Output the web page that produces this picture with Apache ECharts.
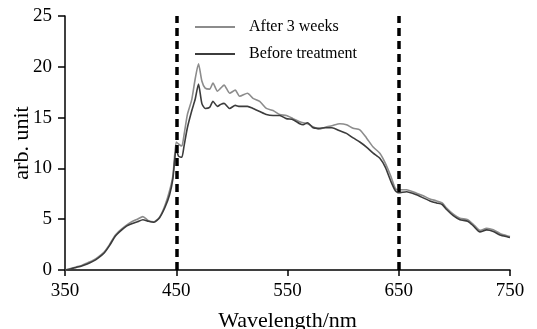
<!DOCTYPE html>
<html>
<head>
<meta charset="utf-8">
<script src="https://cdn.jsdelivr.net/npm/echarts@6/dist/echarts.min.js"></script>
<style>
html,body{margin:0;padding:0;background:#fff;}
#chart{width:537px;height:329px;}
</style>
</head>
<body>
<div id="chart"></div>
<script>
const wavelengths = [350,355,360,365,370,375,380,385,390,395,400,405,410,415,420,425,430,435,440,444,447,450,452,455,457,460,464,467,470,473,476,480,483,487,490,493,498,503,507,514,519,525,531,537,543,549,555,561,564,568,573,578,584,590,597,603,609,615,621,627,633,638,643,647,650,657,666,672,678,684,689,693,699,705,712,717,723,729,735,741,748,750];
const after3Weeks = [0,0.15,0.3,0.45,0.7,0.95,1.3,1.75,2.5,3.4,3.95,4.4,4.75,5.0,5.25,4.85,4.75,5.2,6.4,7.8,9.3,12.6,12.4,12.2,13.3,15.3,16.8,18.8,20.3,18.6,17.9,17.8,18.4,17.6,17.9,18.2,17.4,17.7,17.1,17.4,16.9,16.6,15.9,15.7,15.3,15.2,14.9,14.6,14.5,14.4,14.1,13.85,14.05,14.2,14.4,14.3,13.95,13.8,13.0,12.1,11.5,10.5,9.2,8.0,7.9,7.9,7.55,7.3,7.0,6.8,6.6,6.1,5.5,5.1,4.95,4.5,3.9,4.1,3.95,3.6,3.35,3.3];
const beforeTreatment = [0,0.1,0.25,0.4,0.6,0.85,1.2,1.65,2.4,3.3,3.85,4.3,4.55,4.75,4.95,4.8,4.7,5.15,6.2,7.4,9.0,12.0,11.2,11.1,12.2,14.0,15.7,16.8,18.3,16.4,15.9,16.0,16.6,16.1,16.3,16.4,15.9,16.2,16.1,16.1,15.9,15.6,15.3,15.2,15.2,14.9,14.8,14.4,14.3,14.5,14.0,13.95,14.0,14.0,13.7,13.45,13.0,12.6,12.1,11.5,11.0,10.1,8.7,7.8,7.6,7.7,7.4,7.1,6.8,6.6,6.45,5.95,5.35,4.95,4.8,4.35,3.75,3.95,3.8,3.45,3.25,3.2];
const markerWavelengths = [450, 650];
const seriesNames = ['After 3 weeks', 'Before treatment'];
const xTicks = [350, 450, 550, 650, 750];

const FONT = 'Liberation Serif';
const pair = (ys) => wavelengths.map((x, i) => [x, ys[i]]);

const chart = echarts.init(document.getElementById('chart'), null, {renderer: 'canvas'});
chart.setOption({
  backgroundColor: '#ffffff',
  animation: false,
  grid: {left: 65, right: 27, top: 16, bottom: 59, containLabel: false, outerBoundsMode: 'none'},
  legend: {
    orient: 'vertical',
    left: 190,
    top: 14,
    itemWidth: 40,
    itemHeight: 2,
    itemGap: 11,
    icon: 'rect',
    textStyle: {fontFamily: FONT, fontSize: 16, color: '#000', padding: [0, 0, 0, 9]},
    data: seriesNames
  },
  xAxis: {
    type: 'value',
    min: 350, max: 750, interval: 100,
    name: 'Wavelength/nm',
    nameLocation: 'middle',
    nameGap: 40,
    nameMoveOverlap: false,
    nameTextStyle: {fontFamily: FONT, fontSize: 22, color: '#000'},
    axisLine: {onZero: false, lineStyle: {color: '#000', width: 1.5}},
    axisTick: {show: true, length: 6, lineStyle: {color: '#000', width: 1.5}},
    axisLabel: {fontFamily: FONT, fontSize: 19, color: '#000', margin: 12,
      formatter: (v) => xTicks.includes(v) ? String(v) : ''},
    splitLine: {show: false}
  },
  yAxis: {
    type: 'value',
    min: 0, max: 25, interval: 5,
    name: 'arb. unit',
    nameLocation: 'middle',
    nameGap: 32,
    nameMoveOverlap: false,
    nameTextStyle: {fontFamily: FONT, fontSize: 22, color: '#000'},
    axisLine: {show: true, lineStyle: {color: '#000', width: 1.5}},
    axisTick: {show: true, length: 7, lineStyle: {color: '#000', width: 1.5}},
    axisLabel: {fontFamily: FONT, fontSize: 19, color: '#000', margin: 13},
    splitLine: {show: false}
  },
  series: [
    {
      name: seriesNames[0],
      type: 'line',
      data: pair(after3Weeks),
      showSymbol: false,
      symbol: 'none',
      smooth: 0.2,
      lineStyle: {color: '#8c8c8c', width: 1.6},
      itemStyle: {color: '#8c8c8c'},
      z: 2
    },
    {
      name: seriesNames[1],
      type: 'line',
      data: pair(beforeTreatment),
      showSymbol: false,
      symbol: 'none',
      smooth: 0.2,
      lineStyle: {color: '#3c3c3c', width: 1.6},
      itemStyle: {color: '#3c3c3c'},
      z: 3,
      markLine: {
        silent: true,
        symbol: ['none', 'none'],
        label: {show: false},
        lineStyle: {color: '#000', width: 3.5, type: [8, 5]},
        data: markerWavelengths.map(x => ({xAxis: x}))
      }
    }
  ]
});
</script>
</body>
</html>
